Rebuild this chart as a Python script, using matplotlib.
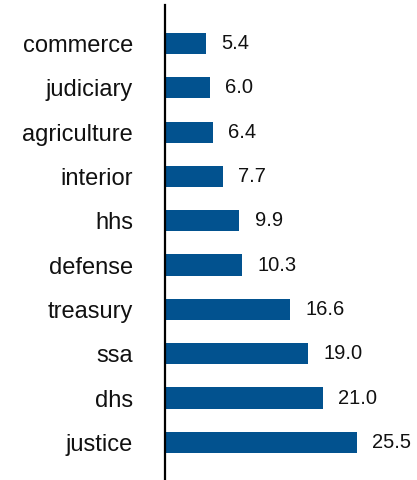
import matplotlib
matplotlib.use("Agg")
import matplotlib.pyplot as plt

agencies = ["commerce", "judiciary", "agriculture", "interior", "hhs",
            "defense", "treasury", "ssa", "dhs", "justice"]
values = [5.4, 6.0, 6.4, 7.7, 9.9, 10.3, 16.6, 19.0, 21.0, 25.5]

plt.rcParams['font.family'] = ['Liberation Sans', 'DejaVu Sans']

fig = plt.figure(figsize=(4.17, 4.8), dpi=100)
ax = fig.add_axes([165 / 417, 0, 1 - 165 / 417, 475 / 480])

pos = list(range(len(agencies)))
ax.barh(pos, values, height=0.48, color='#02528f')
for y, v in zip(pos, values):
    ax.annotate(f"{v:.1f}", (v, y), xytext=(11, 0), textcoords='offset points',
                va='center', ha='left', fontsize=14.5, color='#111111')

ax.set_yticks(pos)
ax.set_yticklabels(agencies, fontsize=17, color='#111111')
ax.tick_params(axis='y', length=0, pad=23)
ax.set_xticks([])
ax.set_xlim(0, 33.5)
ax.set_ylim(len(agencies) - 0.15, -0.87)

for s in ['top', 'right', 'bottom']:
    ax.spines[s].set_visible(False)
ax.spines['left'].set_linewidth(1.6)
ax.spines['left'].set_color('black')

fig.savefig("out.png", dpi=100)
